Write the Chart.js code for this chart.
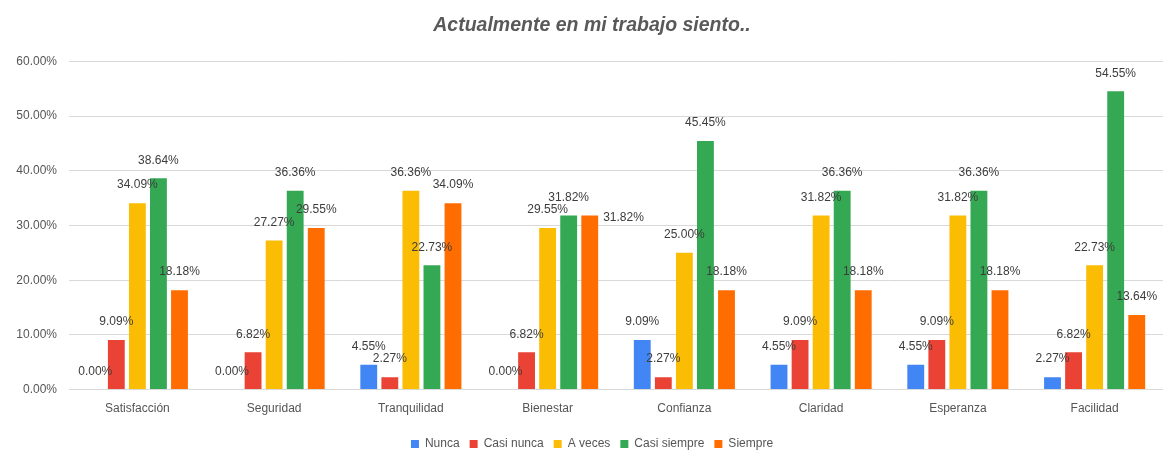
<!DOCTYPE html>
<html>
<head>
<meta charset="utf-8">
<script src="https://cdn.jsdelivr.net/npm/chart.js@4"></script>
<style>
  html, body { margin: 0; padding: 0; background: #fff; }
  #wrap { width: 1172px; height: 466px; }
</style>
</head>
<body>
<div id="wrap"><canvas id="chart" width="1172" height="466"></canvas></div>
<script>
const categories = ["Satisfacción", "Seguridad", "Tranquilidad", "Bienestar", "Confianza", "Claridad", "Esperanza", "Facilidad"];
const series_names = ["Nunca", "Casi nunca", "A veces", "Casi siempre", "Siempre"];
const nunca = [0.00, 0.00, 4.55, 0.00, 9.09, 4.55, 4.55, 2.27];
const casi_nunca = [9.09, 6.82, 2.27, 6.82, 2.27, 9.09, 9.09, 6.82];
const a_veces = [34.09, 27.27, 36.36, 29.55, 25.00, 31.82, 31.82, 22.73];
const casi_siempre = [38.64, 36.36, 22.73, 31.82, 45.45, 36.36, 36.36, 54.55];
const siempre = [18.18, 29.55, 34.09, 31.82, 18.18, 18.18, 18.18, 13.64];
const y_ticks = [0, 10, 20, 30, 40, 50, 60];

const colors = ["#4285F4", "#EA4335", "#FBBC04", "#34A853", "#FF6D01"];
const values = [nunca, casi_nunca, a_veces, casi_siempre, siempre];

const fontFamily = "'Liberation Sans', Arial, sans-serif";

// value labels above the bars, moved beside the bar if they would overlap
const barLabels = {
  id: "barLabels",
  afterDatasetsDraw(chart) {
    const c = chart.ctx;
    c.save();
    c.font = "12px " + fontFamily;
    c.fillStyle = "#3c3c3c";
    const boxes = [];
    chart.data.datasets.forEach((ds, di) => {
      const meta = chart.getDatasetMeta(di);
      meta.data.forEach((bar, i) => {
        const txt = ds.data[i].toFixed(2) + "%";
        const w = c.measureText(txt).width;
        let cx = bar.x, cy = bar.y - 18;
        let box = { l: cx - w / 2, r: cx + w / 2, t: cy - 5, b: cy + 5 };
        const hit = boxes.some(o => o.l < box.r && o.r > box.l && o.t < box.b && o.b > box.t);
        if (hit) {
          const left = bar.x + bar.width / 2 + 5;
          cx = left + w / 2;
          cy = bar.y + 2;
          box = { l: left, r: left + w, t: cy - 5, b: cy + 5 };
        }
        boxes.push(box);
        c.textAlign = "center";
        c.textBaseline = "middle";
        c.fillText(txt, cx, cy);
      });
    });
    c.restore();
  }
};

new Chart(document.getElementById("chart"), {
  type: "bar",
  data: {
    labels: categories,
    datasets: series_names.map((name, k) => ({
      label: name,
      data: values[k],
      backgroundColor: colors[k],
      borderWidth: 0,
      categoryPercentage: 0.77,
      barPercentage: 0.8,
    })),
  },
  options: {
    responsive: false,
    animation: false,
    layout: { padding: { top: 10, right: 0, bottom: 6, left: 12 } },
    scales: {
      y: {
        min: 0,
        max: 60,
        afterBuildTicks: (scale) => { scale.ticks = y_ticks.map(v => ({ value: v })); },
        afterFit: (scale) => { scale.width = 57; },
        border: { display: false },
        grid: { color: "#d9d9d9", lineWidth: 1, drawTicks: false },
        ticks: {
          padding: 12,
          color: "#555",
          font: { family: fontFamily, size: 12 },
          callback: (v) => v.toFixed(2) + "%",
        },
      },
      // empty spacer on the right so the title and legend sit where the original has them
      spacer: {
        type: "linear",
        position: "right",
        afterFit: (scale) => { scale.width = 9; },
        border: { display: false },
        grid: { display: false, drawTicks: false },
        ticks: { display: false },
      },
      x: {
        border: { display: false },
        grid: { display: false, drawTicks: false },
        ticks: {
          padding: 12,
          color: "#555",
          font: { family: fontFamily, size: 12 },
        },
      },
    },
    plugins: {
      title: {
        display: true,
        text: "Actualmente en mi trabajo siento..",
        color: "#595959",
        font: { family: fontFamily, size: 19.5, weight: "bold", style: "italic" },
        padding: { top: 4, bottom: 24 },
      },
      legend: {
        position: "bottom",
        align: "center",
        labels: {
          boxWidth: 8,
          boxHeight: 8,
          padding: 10,
          color: "#555",
          font: { family: fontFamily, size: 12 },
        },
      },
      tooltip: { enabled: false },
    },
  },
  plugins: [barLabels],
});
</script>
</body>
</html>
